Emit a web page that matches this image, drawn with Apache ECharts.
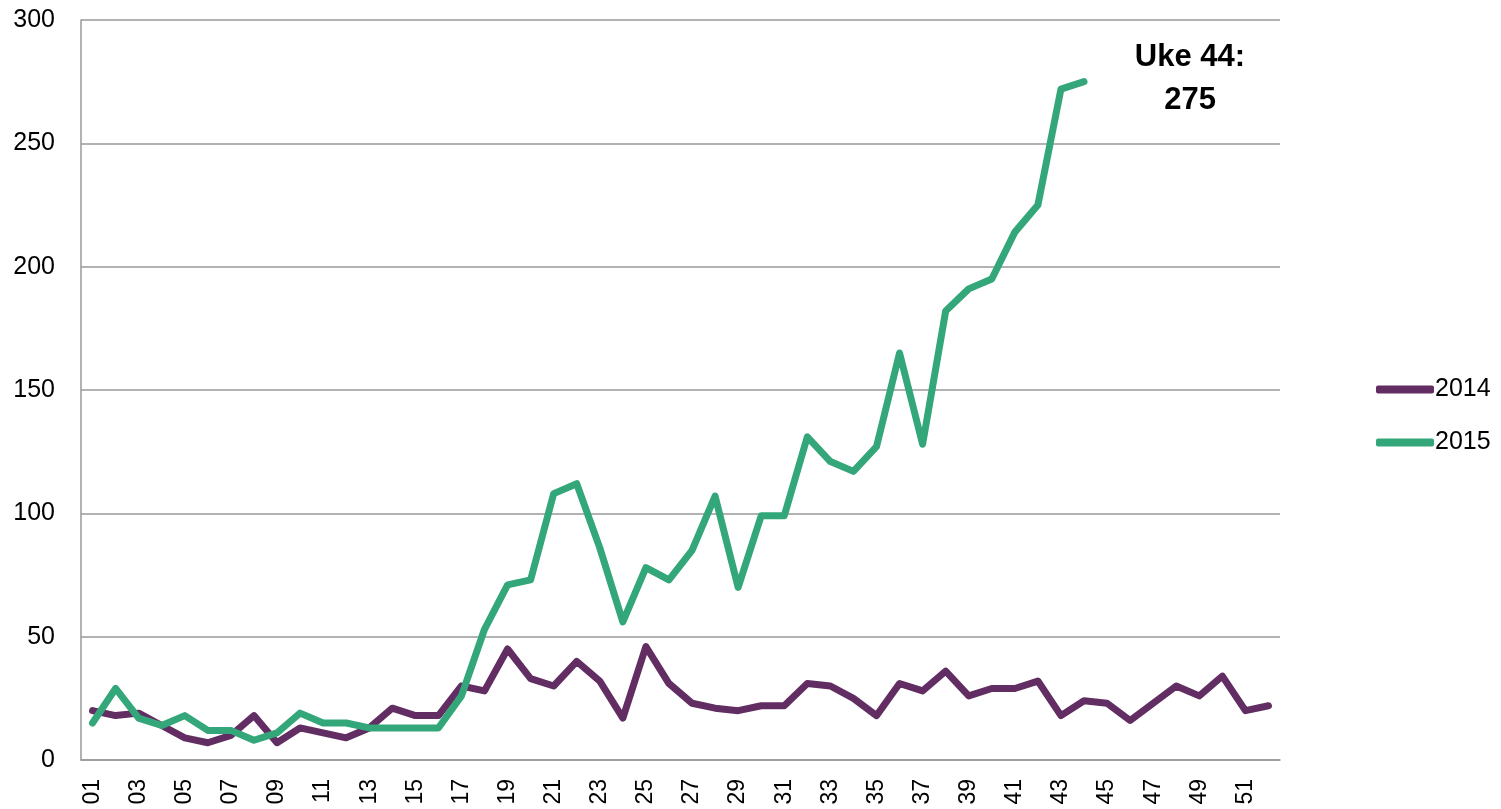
<!DOCTYPE html>
<html lang="no">
<head>
  <meta charset="UTF-8">
  <title>Uke 2014 / 2015</title>
  <style>
    html, body { margin: 0; padding: 0; background: #fff; }
    #main { width: 1501px; height: 809px; }
  </style>
</head>
<body>
  <div id="main"></div>
  <script src="https://cdn.jsdelivr.net/npm/echarts@6/dist/echarts.min.js"></script>
  <script>
    // uker 01 - 52
    var weeks = [];
    for (var w = 1; w <= 52; w++) {
      weeks.push(w < 10 ? '0' + w : '' + w);
    }

    var data2014 = [20, 18, 19, 14, 9, 7, 10, 18, 7, 13,
      11, 9, 13, 21, 18, 18, 30, 28, 45, 33,
      30, 40, 32, 17, 46, 31, 23, 21, 20, 22,
      22, 31, 30, 25, 18, 31, 28, 36, 26, 29,
      29, 32, 18, 24, 23, 16, 23, 30, 26, 34,
      20, 22];

    var data2015 = [15, 29, 17, 14, 18, 12, 12, 8, 11, 19,
      15, 15, 13, 13, 13, 13, 26, 53, 71, 73,
      108, 112, 86, 56, 78, 73, 85, 107, 70, 99,
      99, 131, 121, 117, 127, 165, 128, 182, 191, 195,
      214, 225, 272, 275];

    var yTicks = [0, 50, 100, 150, 200, 250, 300];

    var myChart = echarts.init(document.getElementById('main'));

    var option = {
      backgroundColor: '#fff',
      animation: false,
      grid: {
        left: 81,
        right: 221,
        top: 20,
        bottom: 49,
        containLabel: false,
        outerBoundsMode: 'none'
      },
      legend: {
        orient: 'vertical',
        left: 1371,
        top: 372,
        itemWidth: 58,
        itemHeight: 8,
        itemGap: 28,
        icon: 'roundRect',
        textStyle: {
          fontFamily: 'Liberation Sans',
          fontSize: 25,
          color: '#000',
          padding: [0, 0, 0, -4]
        },
        data: ['2014', '2015']
      },
      xAxis: {
        type: 'category',
        data: weeks,
        boundaryGap: true,
        axisLine: { show: true, lineStyle: { color: '#999', width: 1.5 } },
        axisTick: { show: false },
        axisLabel: {
          interval: 1,
          rotate: 90,
          margin: 19,
          fontFamily: 'Liberation Sans',
          fontSize: 23,
          color: '#000'
        }
      },
      yAxis: {
        type: 'value',
        min: yTicks[0],
        max: yTicks[yTicks.length - 1],
        interval: 50,
        axisLine: { show: true, lineStyle: { color: '#999', width: 1.5 } },
        axisTick: { show: false },
        splitLine: { show: true, lineStyle: { color: '#999', width: 1.5 } },
        axisLabel: {
          margin: 26,
          fontFamily: 'Liberation Sans',
          fontSize: 25,
          color: '#000'
        }
      },
      series: [{
          name: '2014',
          type: 'line',
          data: data2014,
          showSymbol: false,
          symbol: 'none',
          color: '#622d62',
          lineStyle: { width: 7, color: '#622d62', cap: 'round', join: 'round' },
          z: 2
        },
        {
          name: '2015',
          type: 'line',
          data: data2015,
          showSymbol: false,
          symbol: 'none',
          color: '#33a77a',
          lineStyle: { width: 7, color: '#33a77a', cap: 'round', join: 'round' },
          z: 3,
          markPoint: {
            symbol: 'circle',
            symbolSize: 0,
            silent: true,
            data: [{
              coord: ['44', 275],
              label: {
                show: true,
                formatter: 'Uke 44:\n275',
                offset: [106, -3],
                fontFamily: 'Liberation Sans',
                fontWeight: 'bold',
                fontSize: 31,
                lineHeight: 43,
                align: 'center',
                color: '#000'
              }
            }]
          }
        }
      ]
    };

    myChart.setOption(option);
  </script>
</body>
</html>
